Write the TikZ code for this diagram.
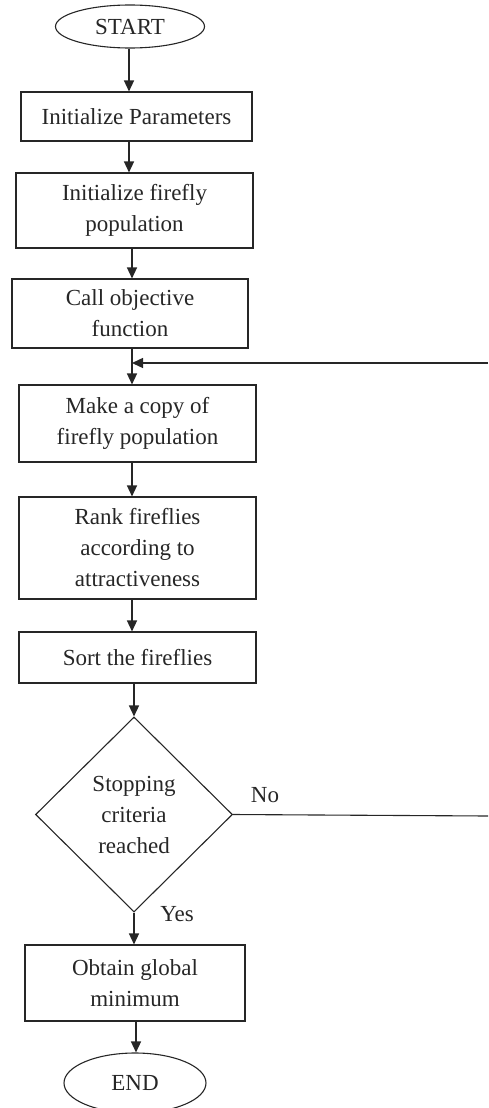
\documentclass[tikz,border=0pt]{standalone}
\usepackage{fontspec}
\setmainfont{Liberation Serif}
\usetikzlibrary{shapes.geometric,arrows.meta}
\begin{document}
\begin{tikzpicture}[x=1pt,y=-1pt,
  every node/.style={font=\fontsize{23}{31}\selectfont, text=black!85, align=center, inner sep=0pt},
  boxnode/.style={draw=black!85, line width=1.1pt, rectangle},
  termnode/.style={draw=black!85, line width=1.1pt, ellipse},
  decnode/.style={draw=black!85, line width=1.1pt, diamond},
  arr/.style={draw=black!85, line width=1.4pt, -{Triangle[length=11pt,width=10pt]}},
  plainline/.style={draw=black!85, line width=1.1pt}]
\useasboundingbox (0,0) rectangle (488,1108);
\node[termnode, minimum width=149pt, minimum height=43pt] (start) at (130,26.5) {START};
\node[boxnode, minimum width=231pt, minimum height=49pt] (ip) at (136.5,116.5) {Initialize Parameters};
\node[boxnode, minimum width=237pt, minimum height=75pt] (if) at (134.5,210.5) {Initialize firefly\\population};
\node[boxnode, minimum width=236pt, minimum height=69pt] (co) at (130,313.5) {Call objective\\function};
\node[boxnode, minimum width=237pt, minimum height=77pt] (mc) at (137.5,423.5) {Make a copy of\\firefly population};
\node[boxnode, minimum width=237pt, minimum height=102pt] (rk) at (137.5,548) {Rank fireflies\\according to\\attractiveness};
\node[boxnode, minimum width=237pt, minimum height=51pt] (st) at (137.5,657.5) {Sort the fireflies};
\node[decnode, minimum width=197pt, minimum height=195pt] (dc) at (134,814.5) {Stopping\\criteria\\reached};
\node[boxnode, minimum width=220pt, minimum height=76pt] (ob) at (135,983) {Obtain global\\minimum};
\node[termnode, minimum width=142pt, minimum height=60pt] (en) at (135,1083) {END};
\node (no) at (265,795) {No};
\node (yes) at (177,914) {Yes};
\coordinate (xa) at (129,0);
\coordinate (xb) at (132,0);
\coordinate (xc) at (134,0);
\coordinate (xd) at (136,0);
\coordinate (fb) at (488,363);
\coordinate (noend) at (488,816);
\draw[arr] (start.south -| xa) -- (ip.north -| xa);
\draw[arr] (ip.south -| xa) -- (if.north -| xa);
\draw[arr] (if.south -| xb) -- (co.north -| xb);
\draw[arr] (co.south -| xb) -- (mc.north -| xb);
\draw[arr] (fb) -- (fb -| xb);
\draw[arr] (mc.south -| xb) -- (rk.north -| xb);
\draw[arr] (rk.south -| xb) -- (st.north -| xb);
\draw[arr] (st.south -| xc) -- (dc.north);
\draw[arr] (dc.south) -- (ob.north -| xc);
\draw[arr] (ob.south -| xd) -- (en.north -| xd);
\draw[plainline] (dc.east) -- (noend);
\end{tikzpicture}
\end{document}
